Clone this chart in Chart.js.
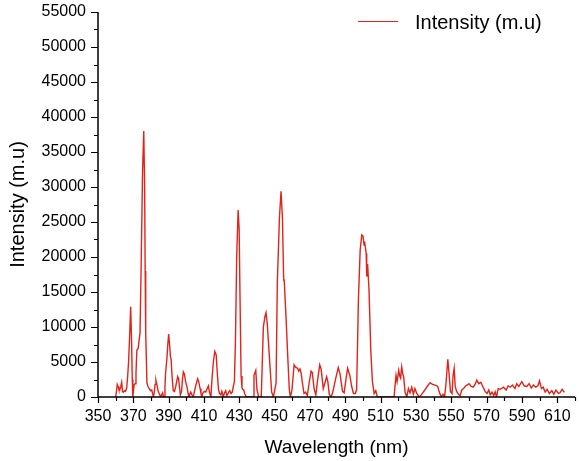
<!DOCTYPE html>
<html>
<head>
<meta charset="utf-8">
<script src="https://cdn.jsdelivr.net/npm/chart.js@4.4.1/dist/chart.umd.min.js"></script>
<style>
  html, body { margin: 0; padding: 0; background: #fff; }
  #grafico { display: block; }
</style>
</head>
<body>
<canvas id="grafico" width="579" height="461"></canvas>
<script>
let serieNombre = "Intensity (m.u)";
let tituloX = "Wavelength (nm)";
let tituloY = "Intensity (m.u)";

// espectro medido: longitud de onda (nm) e intensidad
let longitudOnda = [
  360.0, 360.5, 360.9, 361.4, 361.8, 362.3, 362.9, 363.4, 363.9, 364.4,
  365.0, 365.5, 366.2, 366.8, 367.3, 367.8, 368.5, 369.0, 369.4, 369.7,
  370.4, 371.0, 371.5, 372.0, 372.7, 373.0, 373.8, 374.5, 375.2, 375.9,
  376.4, 376.7, 377.0, 377.7, 378.3, 379.0, 379.7, 380.4, 381.0, 381.3,
  381.8, 382.3, 382.8, 383.4, 384.0, 384.6, 385.5, 386.0, 386.6, 387.0,
  387.4, 387.9, 388.3, 389.0, 389.5, 390.0, 390.5, 391.0, 391.4, 391.9,
  392.6, 393.3, 394.0, 394.6, 395.1, 395.6, 396.1, 396.6, 397.3, 397.8,
  398.3, 398.9, 399.5, 400.4, 401.0, 401.5, 402.0, 402.5, 403.2, 403.9,
  404.6, 405.5, 406.4, 407.0, 407.8, 408.3, 408.7, 409.4, 410.2, 411.0,
  411.8, 412.5, 413.1, 413.9, 414.5, 415.3, 416.1, 416.9, 417.5, 418.2,
  418.8, 419.5, 420.1, 420.9, 421.6, 422.3, 422.9, 423.5, 424.0, 424.6,
  425.3, 426.0, 426.6, 427.2, 427.8, 428.5, 429.3, 429.9, 430.4, 431.0,
  431.5, 431.9, 432.5, 433.0, 433.7, 434.6, 438.0, 438.3, 439.3, 440.0,
  441.0, 442.4, 443.0, 443.6, 444.5, 445.1, 445.8, 447.0, 447.7, 448.3,
  449.3, 450.8, 451.5, 452.7, 453.6, 454.4, 455.1, 455.4, 456.4, 457.4,
  458.3, 458.9, 459.8, 461.0, 461.7, 462.3, 463.0, 463.6, 464.3, 465.0,
  465.7, 466.6, 467.5, 468.5, 469.5, 470.6, 471.3, 472.3, 473.3, 474.4,
  475.5, 476.3, 477.5, 478.3, 479.4, 480.1, 480.9, 481.9, 482.8, 484.5,
  486.0, 487.0, 488.4, 489.3, 490.4, 491.3, 492.6, 493.6, 494.6, 495.7,
  496.4, 497.4, 498.4, 499.3, 500.0, 500.6, 500.9, 501.8, 502.1, 502.6,
  503.4, 504.4, 505.3, 506.3, 507.2, 508.1, 517.6, 518.2, 518.7, 519.3,
  520.2, 520.8, 521.3, 521.9, 522.5, 523.0, 523.8, 524.8, 525.7, 526.6,
  527.6, 528.5, 529.4, 530.4, 531.8, 532.7, 533.8, 535.0, 536.3, 538.0,
  539.3, 540.8, 542.3, 543.2, 544.2, 545.3, 546.2, 547.0, 548.0, 548.7,
  549.5, 550.4, 551.0, 551.6, 552.2, 553.0, 554.0, 555.0, 555.9, 556.9,
  557.8, 558.8, 560.0, 561.2, 562.4, 563.4, 564.4, 565.5, 566.7, 567.8,
  569.1, 570.2, 571.2, 572.0, 573.0, 574.0, 574.8, 575.6, 576.5, 577.7,
  579.5, 581.0, 582.2, 583.3, 584.6, 586.0, 587.0, 588.2, 589.9, 591.2,
  592.7, 594.0, 595.3, 596.5, 597.8, 599.0, 599.9, 601.0, 602.0, 603.1,
  604.2, 605.5, 606.9, 608.0, 609.2, 610.6, 611.5, 612.7, 614.0
];

let intensidad = [
  0, 900, 1800, 1500, 1100, 1000, 1500, 2100, 760, 700,
  900, 800, 1200, 3000, 5000, 8000, 12900, 8000, 2500, 0,
  1700, 1900, 3400, 6700, 6900, 6900, 9200, 20000, 32000, 38000,
  30000, 18000, 9200, 2000, 1500, 1200, 900, 1000, 400, 0,
  600, 1800, 2400, 1700, 900, 500, 0, 300, 600, 100,
  0, 1500, 3600, 5500, 7500, 9000, 7500, 5800, 5300, 3000,
  900, 800, 1500, 2300, 2900, 2600, 1500, 300, 800, 2500,
  3600, 3300, 2300, 1400, 500, 0, 400, 700, 300, 0,
  800, 1800, 2600, 2200, 1200, 500, 0, 600, 800, 700,
  1200, 1600, 700, 0, 2500, 5000, 6500, 6000, 3500, 1100,
  500, 300, 800, 0, 600, 900, 200, 400, 700, 900,
  500, 700, 1500, 2200, 8000, 20000, 26700, 24000, 14000, 3000,
  1300, 1100, 1000, 500, 100, 0, 0, 3100, 3800, 1000,
  0, 0, 5000, 10000, 11500, 12050, 10500, 5800, 3000, 700,
  0, 2000, 16300, 25600, 29400, 25600, 16700, 16700, 11500, 5800,
  1000, 0, 1000, 4600, 4300, 4200, 4100, 3700, 4000, 3400,
  2000, 500, 700, 200, 2000, 3700, 3500, 1200, 300, 2600,
  4600, 4000, 1200, 1900, 2900, 2200, 400, 0, 600, 2600,
  4200, 3300, 800, 600, 2600, 4100, 3000, 1500, 500, 500,
  1100, 13900, 21000, 23150, 23000, 21700, 22200, 20500, 17200, 19000,
  15300, 6700, 2300, 500, 900, 0, 0, 1800, 3100, 2200,
  3800, 3000, 2700, 4300, 3300, 2900, 700, 0, 1200, 600,
  1400, 400, 1200, 500, 0, 200, 600, 1000, 1500, 2050,
  1800, 1700, 1500, 700, 0, 400, 0, 2000, 5400, 3400,
  800, 500, 3100, 4100, 1500, 800, 400, 200, 1000, 1200,
  1500, 1700, 1900, 1500, 1400, 1800, 2400, 1900, 2100, 1500,
  800, 500, 1000, 300, 700, 200, 750, 0, 1200, 1100,
  1400, 1000, 1600, 1400, 1700, 1200, 1900, 1500, 2200, 1600,
  1500, 1900, 1300, 1700, 1400, 1600, 2300, 1200, 1400, 700,
  1100, 500, 900, 400, 1000, 500, 600, 1100, 650
];

let ejeX = { min: 350, max: 620, paso: 10, pasoEtiqueta: 20, ultimaEtiqueta: 610 };
let ejeY = { min: 0, max: 55000, paso: 2500, pasoEtiqueta: 5000 };

let fuente = "Arial, 'Liberation Sans', sans-serif";
let colorLinea = "#e2231a";

// ejes, marcas mayores/menores y leyenda dibujados sobre las escalas de Chart.js
const ejesOrigin = {
  id: "ejesOrigin",
  afterDraw(chart) {
    const ctx = chart.ctx;
    const area = chart.chartArea;
    const x = chart.scales.x;
    const y = chart.scales.y;

    ctx.save();
    ctx.strokeStyle = "#000";
    ctx.lineWidth = 1.5;
    ctx.beginPath();
    ctx.moveTo(area.left, area.top);
    ctx.lineTo(area.left, area.bottom);
    ctx.lineTo(area.right, area.bottom);
    ctx.stroke();

    ctx.lineWidth = 1.2;
    ctx.beginPath();
    for (const t of x.ticks) {
      const px = Math.round(x.getPixelForValue(t.value)) + 0.5;
      const mayor = (t.value - ejeX.min) % ejeX.pasoEtiqueta === 0;
      ctx.moveTo(px, area.bottom);
      ctx.lineTo(px, area.bottom + (mayor ? 6 : 4));
    }
    for (const t of y.ticks) {
      const py = Math.round(y.getPixelForValue(t.value)) + 0.5;
      const mayor = t.value % ejeY.pasoEtiqueta === 0;
      ctx.moveTo(area.left, py);
      ctx.lineTo(area.left - (mayor ? 7 : 4), py);
    }
    ctx.stroke();

    // leyenda
    const ds = chart.data.datasets[0];
    ctx.strokeStyle = ds.borderColor;
    ctx.lineWidth = 1.2;
    ctx.beginPath();
    ctx.moveTo(358, 21.5);
    ctx.lineTo(398, 21.5);
    ctx.stroke();
    ctx.fillStyle = "#000";
    ctx.font = "20px " + fuente;
    ctx.textBaseline = "middle";
    ctx.textAlign = "left";
    ctx.fillText(ds.label, 415, 23);
    ctx.restore();
  }
};

function sinRelleno(scale) {
  scale.paddingLeft = 0;
  scale.paddingRight = 0;
  scale.paddingTop = 0;
  scale.paddingBottom = 0;
}

const puntos = longitudOnda.map((w, i) => ({ x: w, y: intensidad[i] }));

const conf = {
  type: "line",
  data: {
    datasets: [
      {
        label: serieNombre,
        data: puntos,
        borderColor: colorLinea,
        borderWidth: 1.4,
        pointRadius: 0,
        tension: 0,
        fill: false
      }
    ]
  },
  options: {
    responsive: false,
    animation: false,
    devicePixelRatio: 1,
    layout: { padding: { top: 12, right: 4, left: 0, bottom: 0 } },
    plugins: {
      legend: { display: false },
      tooltip: { enabled: false }
    },
    scales: {
      x: {
        type: "linear",
        min: ejeX.min,
        max: ejeX.max,
        afterFit(scale) {
          scale.height = 64;
          sinRelleno(scale);
        },
        afterBuildTicks(scale) {
          const ticks = [];
          for (let v = ejeX.min; v <= ejeX.max; v += ejeX.paso) ticks.push({ value: v });
          scale.ticks = ticks;
        },
        grid: { display: false, drawTicks: false },
        border: { display: false },
        ticks: {
          autoSkip: false,
          maxRotation: 0,
          padding: 10,
          color: "#000",
          font: { family: fuente, size: 16 },
          callback: v => ((v - ejeX.min) % ejeX.pasoEtiqueta === 0 && v <= ejeX.ultimaEtiqueta) ? String(v) : ""
        },
        title: {
          display: true,
          text: tituloX,
          color: "#000",
          font: { family: fuente, size: 19 },
          padding: { top: 0, bottom: 2 }
        }
      },
      y: {
        type: "linear",
        min: ejeY.min,
        max: ejeY.max,
        afterFit(scale) {
          scale.width = 98;
          sinRelleno(scale);
        },
        afterBuildTicks(scale) {
          const ticks = [];
          for (let v = ejeY.min; v <= ejeY.max; v += ejeY.paso) ticks.push({ value: v });
          scale.ticks = ticks;
        },
        grid: { display: false, drawTicks: false },
        border: { display: false },
        ticks: {
          autoSkip: false,
          padding: 12,
          color: "#000",
          font: { family: fuente, size: 16 },
          callback: v => v % ejeY.pasoEtiqueta === 0 ? String(v) : ""
        },
        title: {
          display: true,
          text: tituloY,
          color: "#000",
          font: { family: fuente, size: 20 },
          padding: { top: 6, bottom: 0 }
        }
      }
    }
  },
  plugins: [ejesOrigin]
};

let grafico = new Chart(document.querySelector("#grafico"), conf);
</script>
</body>
</html>
